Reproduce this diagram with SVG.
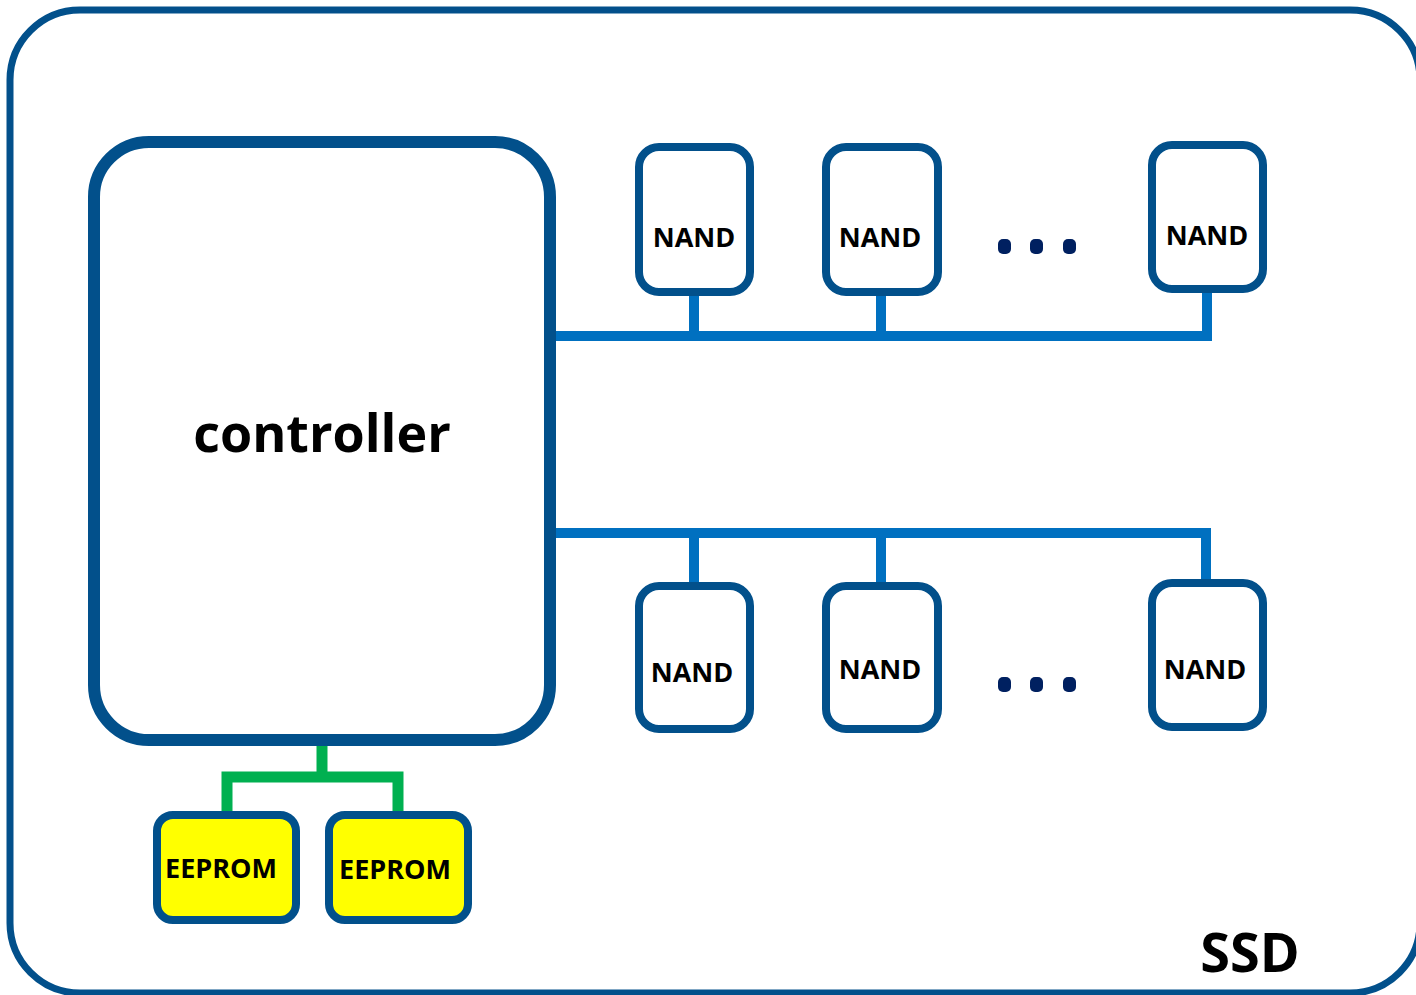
<svg xmlns="http://www.w3.org/2000/svg" width="1416" height="995" viewBox="0 0 1416 995">
<style>
.frame{fill:none;stroke:#02508b;}
.nand{fill:#ffffff;stroke:#02508b;stroke-width:8;}
.ee{fill:#ffff00;stroke:#02508b;stroke-width:8;}
.bus{fill:none;stroke:#0070c0;stroke-width:10;stroke-linejoin:miter;}
.grn{fill:none;stroke:#00b050;stroke-width:11;stroke-linejoin:miter;}
.t{font-family:"Open Sans","Liberation Sans",sans-serif;font-weight:bold;fill:#000;text-anchor:middle;}
.dot{fill:#002060;}
</style>
<rect width="1416" height="995" fill="#ffffff"/>
<g id="ssd">
<rect class="frame" x="10" y="10" width="1410" height="983" rx="70" ry="70" stroke-width="7"/>
<text class="t" x="1250" y="972" font-size="54">SSD</text>
</g>
<g id="connectors">
<path class="bus" d="M552 336 H1207 V292"/>
<path class="bus" d="M694 336 V292"/>
<path class="bus" d="M881 336 V292"/>
<path class="bus" d="M544 533 H1206 V583"/>
<path class="bus" d="M694 533 V586"/>
<path class="bus" d="M881 533 V586"/>
<path class="grn" d="M322 744 V777"/>
<path class="grn" d="M227 813 V777 H398 V813"/>
</g>
<g id="controller">
<rect class="frame" x="94" y="142" width="456" height="598" rx="55" ry="55" stroke-width="12"/>
<text class="t" x="322" y="452" font-size="52">controller</text>
</g>
<g id="nand-top-1">
<rect class="nand" x="639" y="147" width="111" height="145" rx="20"/>
<text class="t" x="694" y="247" font-size="27">NAND</text>
</g>
<g id="nand-top-2">
<rect class="nand" x="826" y="147" width="112" height="145" rx="20"/>
<text class="t" x="880" y="247" font-size="27">NAND</text>
</g>
<g id="nand-top-3">
<rect class="nand" x="1152" y="145" width="111" height="144" rx="20"/>
<text class="t" x="1207" y="245" font-size="27">NAND</text>
</g>
<g id="dots-top">
<rect class="dot" x="998" y="239" width="13" height="15" rx="5"/>
<rect class="dot" x="1030" y="239" width="13" height="15" rx="5"/>
<rect class="dot" x="1063" y="239" width="13" height="15" rx="5"/>
</g>
<g id="nand-bot-1">
<rect class="nand" x="639" y="586" width="111" height="143" rx="20"/>
<text class="t" x="692" y="682" font-size="27">NAND</text>
</g>
<g id="nand-bot-2">
<rect class="nand" x="826" y="586" width="112" height="143" rx="20"/>
<text class="t" x="880" y="679" font-size="27">NAND</text>
</g>
<g id="nand-bot-3">
<rect class="nand" x="1152" y="583" width="111" height="144" rx="20"/>
<text class="t" x="1205" y="679" font-size="27">NAND</text>
</g>
<g id="dots-bot">
<rect class="dot" x="998" y="677" width="13" height="15" rx="5"/>
<rect class="dot" x="1030" y="677" width="13" height="15" rx="5"/>
<rect class="dot" x="1063" y="677" width="13" height="15" rx="5"/>
</g>
<g id="eeprom-1">
<rect class="ee" x="157" y="815" width="139" height="105" rx="16"/>
<text class="t" x="221" y="878" font-size="27">EEPROM</text>
</g>
<g id="eeprom-2">
<rect class="ee" x="329" y="815" width="139" height="105" rx="16"/>
<text class="t" x="395" y="879" font-size="27">EEPROM</text>
</g>
</svg>
